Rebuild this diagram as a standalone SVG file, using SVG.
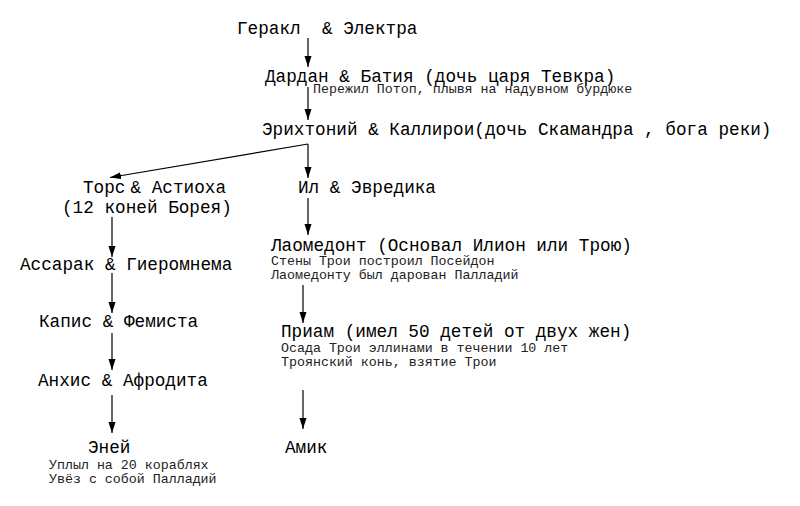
<svg xmlns="http://www.w3.org/2000/svg" width="800" height="506" viewBox="0 0 800 506">
<style>
text{font-family:"Liberation Mono","Courier New",monospace;fill:#000}
.m{font-size:17.7px}
.s{font-size:13.3px;fill:#222}
.e{stroke:#000;stroke-width:1.2;fill:none;marker-end:url(#ah)}
</style>
<defs>
<marker id="ah" markerUnits="userSpaceOnUse" markerWidth="12" markerHeight="8" refX="11" refY="3.5" orient="auto">
<path d="M0,0 L11,3.5 L0,7 z" fill="#000"/>
</marker>
</defs>
<rect width="800" height="506" fill="#fff"/>
<g id="connectors">
<line class="e" x1="308" y1="38" x2="308" y2="67"/>
<line class="e" x1="308" y1="87" x2="308" y2="120"/>
<line class="e" x1="308" y1="144" x2="110" y2="177.5"/>
<line class="e" x1="308" y1="144" x2="308" y2="178"/>
<line class="e" x1="308" y1="198" x2="308" y2="235"/>
<line class="e" x1="303" y1="285" x2="303" y2="323"/>
<line class="e" x1="303" y1="390" x2="303" y2="429"/>
<line class="e" x1="112" y1="217" x2="112" y2="257"/>
<line class="e" x1="112" y1="273" x2="112" y2="313"/>
<line class="e" x1="112" y1="333" x2="112" y2="370"/>
<line class="e" x1="112" y1="395" x2="112" y2="433"/>
</g>
<g id="herakl"><text class="m" x="237" y="34" xml:space="preserve">Геракл  &amp; Электра</text></g>
<g id="dardan">
<text class="m" x="265" y="82">Дардан &amp; Батия (дочь царя Тевкра)</text>
<text class="s" x="313" y="93">Пережил Потоп, плывя на надувном бурдюке</text>
</g>
<g id="erichthonius"><text class="m" x="262" y="135">Эрихтоний &amp; Каллирои(дочь Скамандра , бога реки)</text></g>
<g id="tros">
<text class="m" y="193"><tspan x="83">Торс</tspan><tspan x="130.5">&amp; Астиоха</tspan></text>
<text class="m" x="62" y="213">(12 коней Борея)</text>
</g>
<g id="il"><text class="m" x="298" y="193">Ил &amp; Эвредика</text></g>
<g id="laomedont">
<text class="m" x="271" y="251">Лаомедонт (Основал Илион или Трою)</text>
<text class="s" x="271" y="265">Стены Трои построил Посейдон</text>
<text class="s" x="271" y="279">Лаомедонту был дарован Палладий</text>
</g>
<g id="priam">
<text class="m" x="281" y="337">Приам (имел 50 детей от двух жен)</text>
<text class="s" x="281" y="352">Осада Трои эллинами в течении 10 лет</text>
<text class="s" x="281" y="366">Троянский конь, взятие Трои</text>
</g>
<g id="amik"><text class="m" x="285" y="453">Амик</text></g>
<g id="assarak"><text class="m" x="20" y="270">Ассарак &amp; Гиеромнема</text></g>
<g id="kapis"><text class="m" x="39" y="327">Капис &amp; Фемиста</text></g>
<g id="anchis"><text class="m" x="38" y="386">Анхис &amp; Афродита</text></g>
<g id="aeneas">
<text class="m" x="88" y="453">Эней</text>
<text class="s" x="49" y="469">Уплыл на 20 кораблях</text>
<text class="s" x="49" y="483">Увёз с собой Палладий</text>
</g>
</svg>
